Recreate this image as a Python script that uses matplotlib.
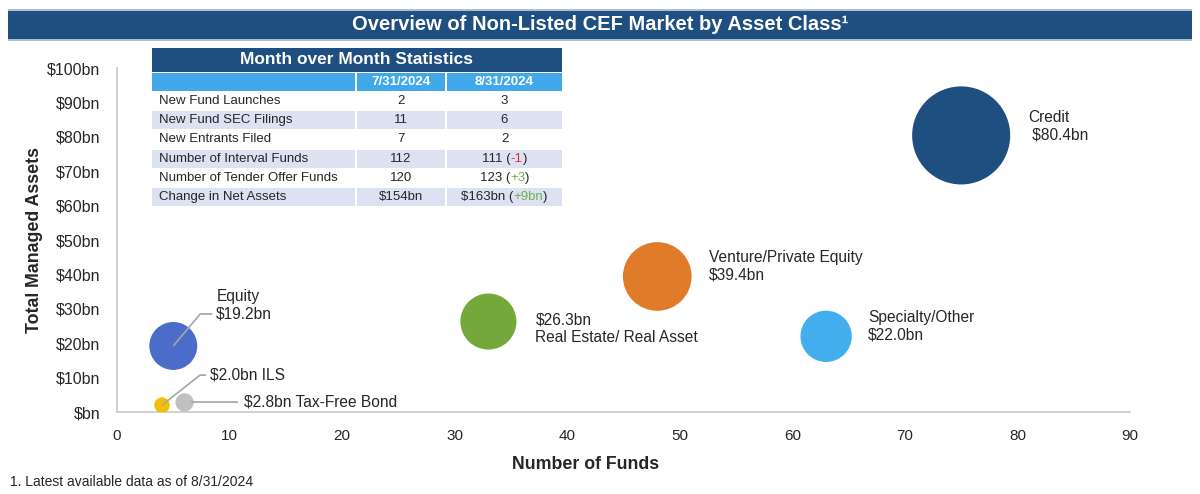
import matplotlib
matplotlib.use("Agg")
from matplotlib import pyplot as plt
from matplotlib.patches import Rectangle
import matplotlib.transforms as mtransforms
import numpy as np

# bubble data
classes = ['Credit', 'Venture/Private Equity', 'Real Estate/ Real Asset',
           'Specialty/Other', 'Equity', 'ILS', 'Tax-Free Bond']
n_funds = [75, 48, 33, 63, 5, 4, 6]
assets_bn = [80.4, 39.4, 26.3, 22.0, 19.2, 2.0, 2.8]
colors = ['#1F4E80', '#E07B2A', '#74A83B', '#42AEEE', '#4B6CC8', '#F5BE00', '#C0C0C0']

# table data
table_title = 'Month over Month Statistics'
table_dates = ['7/31/2024', '8/31/2024']
row_labels = ['New Fund Launches', 'New Fund SEC Filings', 'New Entrants Filed',
              'Number of Interval Funds', 'Number of Tender Offer Funds',
              'Change in Net Assets']
jul_values = ['2', '11', '7', '112', '120', '$154bn']
aug_values = ['3', '6', '2', '111', '123', '$163bn']
aug_changes = ['', '', '', '-1', '+3', '+9bn']

W, H = 1200, 494
SANS = ['Liberation Sans', 'DejaVu Sans']
TXT = '#262626'


def fx(x):
    return x / W


def fy(y):
    return 1 - y / H


def box(x0, y0, x1, y1, color):
    fig.add_artist(Rectangle((fx(x0), fy(y1)), fx(x1) - fx(x0), fy(y0) - fy(y1),
                             transform=fig.transFigure, facecolor=color,
                             edgecolor='none'))


fig = plt.figure(figsize=(12, 4.94), dpi=100)
ax = fig.add_axes([fx(117), fy(412), fx(1130) - fx(117), fy(68) - fy(412)])

sizes = np.array(assets_bn) * 62
ax.scatter(n_funds, assets_bn, s=sizes, c=colors, edgecolors='none', zorder=3)

ax.set_xlim(0, 90)
ax.set_ylim(0, 100)
ax.set_xticks(range(0, 91, 10))
ax.set_yticks(range(0, 101, 10))
ax.set_yticklabels(['$bn'] + ['$%dbn' % v for v in range(10, 101, 10)])
ax.tick_params(length=0, pad=12, colors=TXT)
ax.tick_params(axis='y', labelsize=11.5)
ax.tick_params(axis='x', labelsize=11)
for lab in ax.get_xticklabels() + ax.get_yticklabels():
    lab.set_family(SANS)
for side in ['top', 'right']:
    ax.spines[side].set_visible(False)
for side in ['left', 'bottom']:
    ax.spines[side].set_color('#C8C8C8')
    ax.spines[side].set_linewidth(1.2)

ax.set_xlabel('Number of Funds', fontsize=12.8, fontweight='bold', family=SANS,
              color=TXT)
ax.xaxis.set_label_coords(0.463, -0.127)
ax.set_ylabel('Total Managed Assets', fontsize=12.8, fontweight='bold',
              family=SANS, color=TXT)
ax.yaxis.set_label_coords(-0.073, 0.5)

# bubble labels: text, offset from bubble centre (px), leader polyline (px)
label_text = [
    '%s\n $%.1fbn' % (classes[0], assets_bn[0]),
    '%s\n$%.1fbn' % (classes[1], assets_bn[1]),
    '$%.1fbn\n%s' % (assets_bn[2], classes[2]),
    '%s\n$%.1fbn' % (classes[3], assets_bn[3]),
    '%s\n$%.1fbn' % (classes[4], assets_bn[4]),
    '$%.1fbn %s' % (assets_bn[5], classes[5]),
    '$%.1fbn %s' % (assets_bn[6], classes[6]),
]
label_off = [(67, 9), (52, 10), (47, -7), (42, 10), (43, 41), (48, 30), (59, 0)]
leaders = [None, None, None, None,
           [(0, 0), (27, 32), (39, 32)],
           [(0, 0), (38, 30), (44, 30)],
           [(6, 0), (53, 0)]]

k = 0.72  # px -> points at 100 dpi
for i in range(len(classes)):
    ox, oy = label_off[i]
    ax.annotate(label_text[i], (n_funds[i], assets_bn[i]),
                xytext=(ox * k, oy * k), textcoords='offset points',
                ha='left', va='center', fontsize=11.2, color=TXT,
                family=SANS, linespacing=1.2, zorder=5)
    if leaders[i] is not None:
        xs = [p[0] for p in leaders[i]]
        ys = [p[1] for p in leaders[i]]
        base = ax.transData.transform((n_funds[i], assets_bn[i]))
        line_tr = mtransforms.Affine2D().translate(*base)
        ax.plot(xs, ys, color='#A6A6A6', lw=1.2, transform=line_tr, zorder=4,
                solid_capstyle='butt', clip_on=False)

# title banner
box(8, 9, 1192, 41, '#A9BFDA')
box(8, 11, 1192, 39, '#1F4E80')
fig.text(0.5, fy(25), 'Overview of Non-Listed CEF Market by Asset Class\u00b9',
         ha='center', va='center', color='white', fontsize=14.5,
         fontweight='bold', family=SANS)

# statistics table
cols = [(152, 355), (357, 445), (447, 562)]
box(152, 48, 562, 72, '#1F4E80')
fig.text(fx(357), fy(60), table_title, ha='center', va='center', color='white',
         fontsize=12.5, fontweight='bold', family=SANS)
for j, (c0, c1) in enumerate(cols):
    box(c0, 73, c1, 91, '#41A9E9')
    if j > 0:
        fig.text(fx((c0 + c1) / 2), fy(82), table_dates[j - 1], ha='center',
                 va='center', color='white', fontsize=9.5, fontweight='bold',
                 family=SANS)

row_h = 19.3
renderer = fig.canvas.get_renderer()
fs = 9.5
for r in range(len(row_labels)):
    y0 = 92 + r * row_h
    y1 = y0 + row_h - 1.5
    yc = (y0 + y1) / 2
    shade = '#DCE2F2' if r % 2 == 1 else 'white'
    for c0, c1 in cols:
        box(c0, y0, c1, y1, shade)
    fig.text(fx(cols[0][0] + 7), fy(yc), row_labels[r], ha='left', va='center',
             fontsize=fs, color=TXT, family=SANS)
    fig.text(fx(sum(cols[1]) / 2), fy(yc), jul_values[r], ha='center',
             va='center', fontsize=fs, color=TXT, family=SANS)
    if aug_changes[r]:
        chg_col = '#E03030' if aug_changes[r].startswith('-') else '#70B04A'
        parts = [(aug_values[r] + ' (', TXT), (aug_changes[r], chg_col),
                 (')', TXT)]
    else:
        parts = [(aug_values[r], TXT)]
    txts = [fig.text(0, fy(yc), s, ha='left', va='center', fontsize=fs,
                     color=c, family=SANS) for s, c in parts]
    widths = [t.get_window_extent(renderer).width for t in txts]
    x = sum(cols[2]) / 2 - sum(widths) / 2
    for t, w in zip(txts, widths):
        t.set_x(fx(x))
        x += w

fig.text(fx(10), fy(482), '1. Latest available data as of 8/31/2024',
         ha='left', va='center', fontsize=10, color=TXT, family=SANS)

fig.savefig('out.png', dpi=100)
